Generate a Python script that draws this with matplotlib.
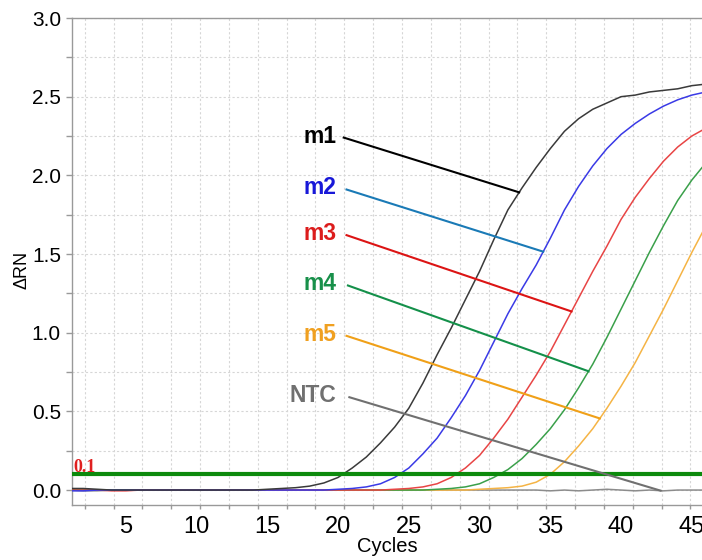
import numpy as np
import matplotlib
matplotlib.use("Agg")
import matplotlib.pyplot as plt
from matplotlib.ticker import FixedLocator, MultipleLocator, FormatStrFormatter

# amplification curves, delta Rn per cycle
cycles = np.arange(1, 47)
m1 = [0.01, 0.01, 0.005, 0.0, 0.0, 0.0, 0.0, 0.0, 0.0, 0.0,
      0.0, 0.0, 0.0, 0.0, 0.005, 0.01, 0.015, 0.025, 0.045, 0.08,
      0.14, 0.21, 0.30, 0.40, 0.52, 0.68, 0.86, 1.03, 1.21, 1.39,
      1.59, 1.78, 1.92, 2.05, 2.17, 2.28, 2.36, 2.42, 2.46, 2.50,
      2.51, 2.53, 2.54, 2.55, 2.57, 2.58]
m2 = [-0.005, -0.005, 0.0, 0.0, 0.0, 0.0, 0.0, 0.0, 0.0, 0.0,
      0.0, 0.0, 0.0, 0.0, 0.0, 0.0, 0.0, 0.0, 0.0, 0.005,
      0.01, 0.02, 0.04, 0.08, 0.14, 0.23, 0.33, 0.46, 0.60, 0.76,
      0.94, 1.12, 1.28, 1.43, 1.60, 1.78, 1.93, 2.06, 2.17, 2.26,
      2.33, 2.39, 2.44, 2.48, 2.51, 2.53]
m3 = [0.0, 0.0, 0.0, -0.005, -0.005, 0.0, 0.0, 0.0, 0.0, 0.0,
      0.0, 0.0, 0.0, 0.0, 0.0, 0.0, 0.0, 0.0, 0.0, 0.0,
      0.0, 0.0, 0.0, 0.005, 0.01, 0.02, 0.04, 0.08, 0.14, 0.22,
      0.33, 0.45, 0.59, 0.73, 0.88, 1.05, 1.22, 1.39, 1.55, 1.72,
      1.86, 1.98, 2.09, 2.18, 2.25, 2.30]
m4 = [0.0, 0.0, 0.0, 0.0, 0.0, 0.0, 0.0, 0.0, 0.0, 0.0,
      0.0, 0.0, 0.0, 0.0, 0.0, 0.0, 0.0, 0.0, 0.0, 0.0,
      0.0, 0.0, 0.0, 0.0, 0.0, 0.0, 0.005, 0.01, 0.02, 0.04,
      0.08, 0.13, 0.20, 0.29, 0.39, 0.51, 0.65, 0.80, 0.97, 1.15,
      1.33, 1.51, 1.68, 1.84, 1.97, 2.08]
m5 = [0.0, 0.0, 0.0, 0.0, 0.0, 0.0, 0.0, 0.0, 0.0, 0.0,
      0.0, 0.0, 0.0, 0.0, 0.0, 0.0, 0.0, 0.0, 0.0, 0.0,
      0.0, 0.0, 0.0, 0.0, 0.0, 0.0, 0.0, 0.0, 0.0, 0.005,
      0.01, 0.015, 0.025, 0.05, 0.10, 0.18, 0.28, 0.39, 0.52, 0.66,
      0.81, 0.98, 1.15, 1.33, 1.51, 1.68]
ntc = [0.0, -0.005, -0.005, 0.0, 0.0, 0.0, 0.0, 0.0, 0.0, 0.0,
       0.0, 0.0, 0.0, 0.0, 0.0, 0.0, 0.0, 0.0, 0.0, 0.0,
       0.0, 0.0, 0.0, 0.0, 0.0, 0.0, 0.0, 0.0, 0.0, 0.0,
       0.0, 0.0, 0.0, 0.0, -0.005, 0.0, -0.005, 0.0, 0.005, 0.0,
       -0.005, 0.0, -0.005, 0.0, 0.0, 0.0]
threshold = 0.1

names = ["m1", "m2", "m3", "m4", "m5", "NTC"]
series = [m1, m2, m3, m4, m5, ntc]
curve_colors = ["#3a3a3a", "#3a3ae6", "#e84545", "#3aa04a", "#f5b445", "#8c8c8c"]
text_colors = ["#000000", "#1818d8", "#dc1c1c", "#18904a", "#f0a020", "#707070"]
leader_colors = ["#000000", "#1a7ab6", "#dc1414", "#14904a", "#f0a018", "#707070"]
# leader lines: label-side point (cycle, dRn) and cycle where they touch the curve
leader_start = [(20.4, 2.24), (20.6, 1.91), (20.6, 1.62), (20.7, 1.30), (20.6, 0.98), (20.8, 0.59)]
leader_end_cycle = [32.8, 34.5, 36.5, 37.7, 38.5, 42.8]

fig = plt.figure(figsize=(7.02, 5.6), dpi=100)
ax = fig.add_axes([72 / 702, 1 - 505 / 560, 1 - 72 / 702, (505 - 18) / 560])

for s, c in zip(series[::-1], curve_colors[::-1]):
    ax.plot(cycles, s, color=c, lw=1.1, zorder=3)

ax.axhline(threshold, color="#0c8a0c", lw=3.0, zorder=4)
ax.text(1.3, threshold - 0.012, "0.1", color="#e02020", fontsize=13, fontweight="bold",
        family="Liberation Serif", ha="left", va="bottom", zorder=5)

for name, s, tc, lc, (x0, y0), xe in zip(names, series, text_colors, leader_colors,
                                          leader_start, leader_end_cycle):
    ye = np.interp(xe, cycles, s)
    ax.plot([x0, xe], [y0, ye], color=lc, lw=1.5, zorder=5)
    ax.text(19.9, y0 + 0.01, name, color=tc, fontsize=16.5, fontweight="bold",
            family="Liberation Sans", ha="right", va="center", zorder=5)

ax.set_xlim(1.2, 45.72)
ax.set_ylim(-0.095, 3.0)

ax.xaxis.set_major_locator(FixedLocator([5, 10, 15, 20, 25, 30, 35, 40, 45]))
ax.xaxis.set_minor_locator(FixedLocator(np.linspace(2.1, 44.9, 22)))
ax.yaxis.set_major_locator(MultipleLocator(0.5))
ax.yaxis.set_minor_locator(MultipleLocator(0.25))
ax.yaxis.set_major_formatter(FormatStrFormatter("%.1f"))

ax.tick_params(axis="x", which="major", length=0, pad=8, labelsize=17)
ax.tick_params(axis="x", which="minor", length=3, width=1, color="#999999")
ax.tick_params(axis="y", which="both", length=4, width=1, color="#999999", pad=4, labelsize=15)
for lab in ax.get_xticklabels() + ax.get_yticklabels():
    lab.set_family("Liberation Sans")

ax.grid(which="both", axis="y", color="#d6d6d6", lw=0.8, ls=(0, (2, 2)))
ax.grid(which="minor", axis="x", color="#d6d6d6", lw=0.8, ls=(0, (2, 2)))
ax.set_axisbelow(True)

for sp in ["left", "bottom", "top"]:
    ax.spines[sp].set_color("#999999")
    ax.spines[sp].set_linewidth(1.0)
ax.spines["right"].set_visible(False)

ax.set_xlabel("Cycles", fontsize=14.5, family="Liberation Sans", labelpad=-1)
fig.text(22 / 702, 1 - 270 / 560, "ΔRN", rotation=90, ha="center", va="center", fontsize=13,
         family=["Liberation Sans", "DejaVu Sans"])

fig.savefig("out.png", dpi=100)
